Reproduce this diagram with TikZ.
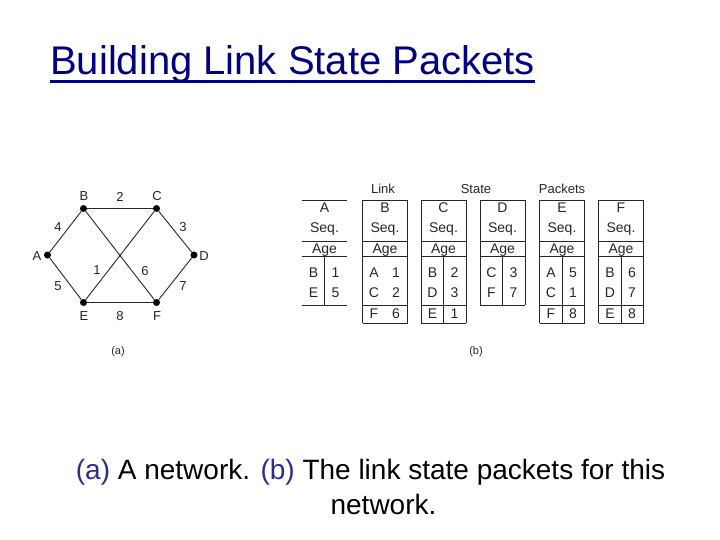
\documentclass[tikz,border=0pt]{standalone}
\usepackage{fontspec}
\setmainfont{Liberation Sans}
\definecolor{blutitolo}{HTML}{000080}
\definecolor{bludida}{HTML}{2E2E8A}
\tikzset{
  nodo/.style={circle, fill=black, inner sep=0pt, minimum size=7pt},
  arco/.style={draw=black!85, line width=0.9pt},
  etichetta/.style={font=\fontsize{13}{15}\selectfont, inner sep=0pt, text=black!85},
  cella/.style={font=\fontsize{14}{16}\selectfont, inner sep=0pt, anchor=base, text=black!85},
  bordo/.style={draw=black!85, line width=0.9pt},
}
\begin{document}
\begin{tikzpicture}[x=1pt, y=-1pt]
  \useasboundingbox[fill=white] (0,0) rectangle (720,540);
  % titolo
  \node[font=\fontsize{40}{46}\selectfont, text=blutitolo, inner sep=0pt, anchor=base west]
    (titolo) at (50,75) {Building Link State Packets};
  \draw[blutitolo, line width=2.7pt] ([yshift=-6.5pt]titolo.base west) -- ([yshift=-6.5pt]titolo.base east);

  % (a) la rete
  \node[nodo] (A) at (47.5,255) {};
  \node[nodo] (B) at (83.5,208.5) {};
  \node[nodo] (C) at (156.5,208.5) {};
  \node[nodo] (D) at (194,255) {};
  \node[nodo] (E) at (83.5,302.5) {};
  \node[nodo] (F) at (156.5,302.5) {};
  \foreach \u/\v in {A/B, B/C, C/D, A/E, E/F, F/D, B/F, C/E}
    \draw[arco] (\u) -- (\v);
  \foreach \n/\x/\y in {A/37/256, B/84/196.5, C/157/196.5, D/204/256, E/84/316, F/157/316}
    \node[etichetta] (l\n) at (\x,\y) {\n};
  \foreach \p/\x/\y in {2/120/196.5, 4/58/227, 3/183/227, 1/97/270, 6/145/271, 5/58/286, 7/183/286, 8/120/316}
    \node[etichetta] (w\p) at (\x,\y) {\p};
  \node[etichetta, font=\fontsize{11}{13}\selectfont] (dida-a) at (118,352) {(a)};

  % (b) pacchetti link state
  \node[etichetta] (link) at (383,189) {Link};
  \node[etichetta] (state) at (476,189) {State};
  \node[etichetta] (packets) at (562,189) {Packets};
  \foreach \n/\x/\righe/\lati/\divisore/\voci in {
      A/302/2/0/1/{B/1,E/5},
      B/362.5/3/1/0/{A/1,C/2,F/6},
      C/421/3/1/1/{B/2,D/3,E/1},
      D/480/2/1/1/{C/3,F/7},
      E/539.5/3/1/1/{A/5,C/1,F/8},
      F/598.5/3/1/1/{B/6,D/7,E/8}} {
    \pgfmathsetmacro{\fondo}{\righe==2 ? 305 : 323.3}
    \node[cella] (\n-nome) at (\x+22.5,213) {\n};
    \node[cella] (\n-seq) at (\x+22.5,233) {Seq.};
    \node[cella] (\n-age) at (\x+22.5,254) {Age};
    \draw[bordo] (\x,200) -- ++(45,0);
    \draw[bordo] (\x,241.7) -- ++(45,0);
    \draw[bordo] (\x,256.7) -- ++(45,0);
    \draw[bordo] (\x,305) -- ++(45,0);
    \ifnum\righe=3 \draw[bordo] (\x,323.3) -- ++(45,0); \fi
    \ifnum\lati=1
      \draw[bordo] (\x,200) -- (\x,\fondo);
      \draw[bordo] (\x+45,200) -- (\x+45,\fondo);
    \fi
    \ifnum\divisore=1 \draw[bordo] (\x+22.5,256.7) -- (\x+22.5,\fondo); \fi
    \foreach \m/\c [count=\k] in \voci {
      \pgfmathsetmacro{\yb}{256.5+20.5*\k}
      \node[cella] (\n-l\k) at (\x+11.5,\yb) {\m};
      \node[cella] (\n-c\k) at (\x+33.5,\yb) {\c};
    }
  }
  \node[etichetta, font=\fontsize{11}{13}\selectfont] (dida-b) at (476,352) {(b)};

  % didascalia
  \node[font=\fontsize{28}{33}\selectfont, inner sep=0pt, anchor=base] (dida1) at (370.5,479)
    {\textcolor{bludida}{(a)} A network. \textcolor{bludida}{(b)} The link state packets for this};
  \node[font=\fontsize{28}{33}\selectfont, inner sep=0pt, anchor=base] (dida2) at (383.5,514) {network.};
\end{tikzpicture}
\end{document}
